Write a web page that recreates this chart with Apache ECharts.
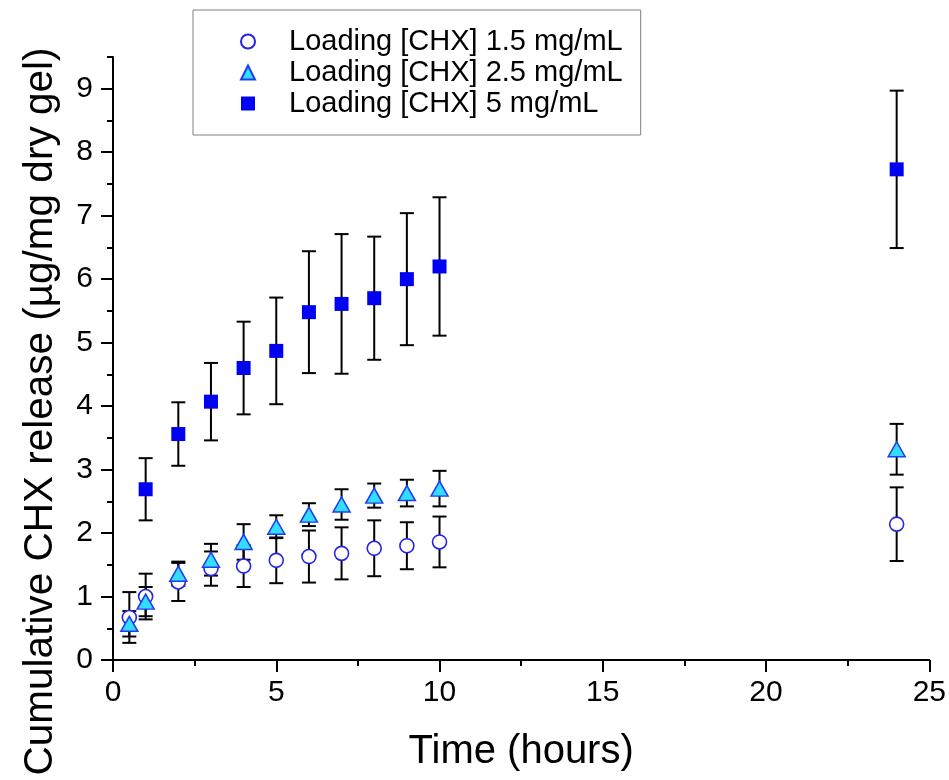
<!DOCTYPE html>
<html>
<head>
<meta charset="utf-8">
<script src="https://cdn.jsdelivr.net/npm/echarts@6/dist/echarts.min.js"></script>
<style>
html,body{margin:0;padding:0;background:#fff;}
#chart{width:949px;height:780px;}
</style>
</head>
<body>
<div id="chart"></div>
<script>
// ---- data ----
const seriesNames = ['Loading [CHX] 1.5 mg/mL', 'Loading [CHX] 2.5 mg/mL', 'Loading [CHX] 5 mg/mL'];

const timeLow = [0.5, 1, 2, 3, 4, 5, 6, 7, 8, 9, 10, 24];
const release15 = [0.67, 1.00, 1.23, 1.44, 1.48, 1.57, 1.63, 1.68, 1.76, 1.80, 1.86, 2.14];
const error15   = [0.40, 0.36, 0.30, 0.27, 0.33, 0.36, 0.41, 0.41, 0.44, 0.37, 0.40, 0.58];

const release25 = [0.57, 0.92, 1.36, 1.58, 1.86, 2.10, 2.29, 2.45, 2.59, 2.63, 2.70, 3.32];
const error25   = [0.20, 0.23, 0.19, 0.25, 0.28, 0.18, 0.18, 0.24, 0.19, 0.21, 0.28, 0.40];

const timeHigh = [1, 2, 3, 4, 5, 6, 7, 8, 9, 10, 24];
const release5 = [2.69, 3.56, 4.07, 4.60, 4.87, 5.48, 5.61, 5.70, 6.00, 6.20, 7.73];
const error5   = [0.49, 0.50, 0.61, 0.73, 0.84, 0.96, 1.10, 0.97, 1.04, 1.09, 1.24];

const xTicks = [0, 5, 10, 15, 20, 25];
const yTicks = [0, 1, 2, 3, 4, 5, 6, 7, 8, 9];

const xTitle = 'Time (hours)';
const yTitle = 'Cumulative CHX release (\u00b5g/mg dry gel)';

// ---- build ----
const FONT = 'Liberation Sans, Arial, Helvetica, sans-serif';
function pts(xs, ys) { return xs.map((x, i) => [x, ys[i]]); }
function errPts(xs, ys, es) { return xs.map((x, i) => [x, ys[i], es[i]]); }

function errorSeries(data) {
  return {
    type: 'custom',
    silent: true,
    z: 1,
    clip: false,
    encode: { x: 0, y: 1 },
    data: data,
    renderItem: function (params, api) {
      const x = api.value(0), y = api.value(1), e = api.value(2);
      const t = api.coord([x, y + e]);
      const b = api.coord([x, y - e]);
      const w = 7;
      const st = { stroke: '#000', lineWidth: 2 };
      return {
        type: 'group',
        children: [
          { type: 'line', shape: { x1: t[0], y1: t[1], x2: b[0], y2: b[1] }, style: st },
          { type: 'line', shape: { x1: t[0] - w, y1: t[1], x2: t[0] + w, y2: t[1] }, style: st },
          { type: 'line', shape: { x1: b[0] - w, y1: b[1], x2: b[0] + w, y2: b[1] }, style: st }
        ]
      };
    }
  };
}

const axisLineStyle = { color: '#000', width: 2 };

const option = {
  backgroundColor: '#fff',
  animation: false,
  textStyle: { fontFamily: FONT },
  grid: { left: 113, right: 19, top: 57, bottom: 120, containLabel: false },
  legend: {
    data: seriesNames,
    orient: 'vertical',
    left: 193,
    top: 10,
    itemWidth: 14,
    itemHeight: 14,
    itemGap: 0,
    padding: [16, 18, 16, 47],
    borderColor: '#808080',
    borderWidth: 1,
    backgroundColor: '#fff',
    formatter: function (name) { return '{s|}' + name; },
    textStyle: {
      fontFamily: FONT, fontSize: 29, color: '#000', lineHeight: 31,
      rich: { s: { width: 29, fontSize: 29, lineHeight: 31 } }
    }
  },
  xAxis: {
    type: 'value',
    min: 0, max: 25, interval: 5,
    name: xTitle,
    nameLocation: 'middle',
    nameGap: 72,
    nameTextStyle: { fontFamily: FONT, fontSize: 40, color: '#000' },
    axisLine: { show: true, onZero: false, lineStyle: axisLineStyle },
    axisTick: { show: true, inside: false, length: 12, lineStyle: axisLineStyle,
                customValues: xTicks },
    minorTick: { show: true, splitNumber: 2, length: 6, lineStyle: { color: '#000', width: 2 } },
    axisLabel: { fontFamily: FONT, fontSize: 30, color: '#000', margin: 18, customValues: xTicks },
    splitLine: { show: false }
  },
  yAxis: [
    {
      type: 'value',
      position: 'left',
      min: 0, max: 9.5, interval: 1,
      name: yTitle,
      nameLocation: 'middle',
      nameGap: 52,
      nameTextStyle: { fontFamily: FONT, fontSize: 40.5, color: '#000', padding: [0, 106, 0, 0] },
      axisLine: { show: true, onZero: false, lineStyle: axisLineStyle },
      axisTick: { show: true, inside: false, length: 12, lineStyle: axisLineStyle, customValues: yTicks },
      axisLabel: { fontFamily: FONT, fontSize: 30, color: '#000', margin: 20, customValues: yTicks },
      splitLine: { show: false }
    },
    {
      type: 'value',
      position: 'left',
      min: 0, max: 9.5, interval: 0.5,
      axisLine: { show: false },
      axisTick: { show: true, inside: false, length: 6, lineStyle: axisLineStyle },
      axisLabel: { show: false },
      splitLine: { show: false }
    }
  ],
  series: [
    errorSeries(errPts(timeLow, release15, error15)),
    errorSeries(errPts(timeLow, release25, error25)),
    errorSeries(errPts(timeHigh, release5, error5)),
    {
      name: seriesNames[0], type: 'scatter', z: 3,
      symbol: 'circle', symbolSize: 14,
      itemStyle: { color: '#ffffff', borderColor: '#2424e6', borderWidth: 1.6, opacity: 1 },
      data: pts(timeLow, release15)
    },
    {
      name: seriesNames[1], type: 'scatter', z: 4,
      symbol: 'triangle', symbolSize: [17, 15],
      itemStyle: { color: '#33ddff', borderColor: '#1f3cf0', borderWidth: 1.5, opacity: 1 },
      data: pts(timeLow, release25)
    },
    {
      name: seriesNames[2], type: 'scatter', z: 5,
      symbol: 'rect', symbolSize: 14,
      itemStyle: { color: '#0000f2', opacity: 1 },
      data: pts(timeHigh, release5)
    }
  ]
};

const chart = echarts.init(document.getElementById('chart'), null, { renderer: 'canvas' });
chart.setOption(option);
</script>
</body>
</html>
